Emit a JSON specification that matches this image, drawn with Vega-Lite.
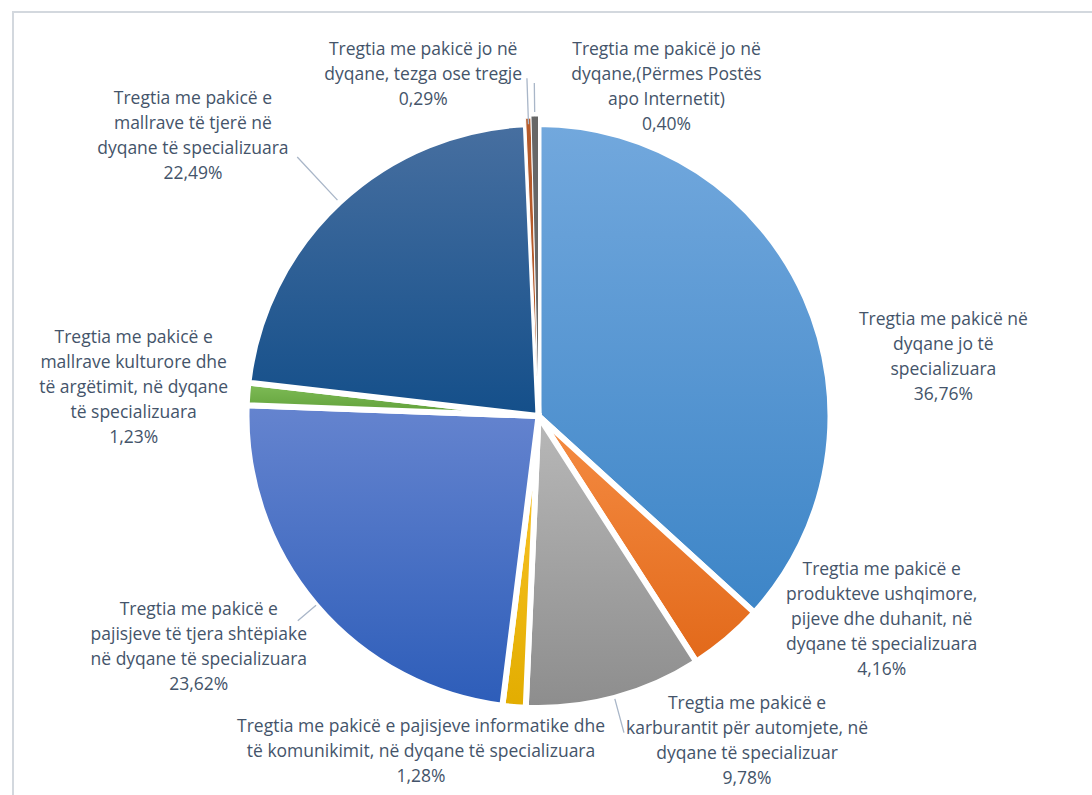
{
  "$schema": "https://vega.github.io/schema/vega-lite/v6.json",
  "width": 1082,
  "height": 786,
  "autosize": {"type": "none"},
  "padding": {"left": 13, "top": 12, "right": -3, "bottom": -3},
  "background": "white",
  "view": {"stroke": "#d3d8de", "strokeWidth": 2},
  "config": {
    "view": {"stroke": "#d3d8de", "strokeWidth": 2},
    "style": {"cell": {"stroke": "#d3d8de", "strokeWidth": 2}},
    "arc": {"stroke": "white", "strokeWidth": 6},
    "text": {"font": "Open Sans", "fontSize": 17.5, "lineHeight": 25, "color": "#44546A", "lineBreak": "\n", "align": "center", "baseline": "middle"}
  },
  "data": {
    "values": [
      {"ord": 1, "key": "k1", "value": 36.76, "label": "Tregtia me pakicë në\ndyqane jo të\nspecializuara\n36,76%"},
      {"ord": 2, "key": "k2", "value": 4.16, "label": "Tregtia me pakicë e\nprodukteve ushqimore,\npijeve dhe duhanit, në\ndyqane të specializuara\n4,16%"},
      {"ord": 3, "key": "k3", "value": 9.78, "label": "Tregtia me pakicë e\nkarburantit për automjete, në\ndyqane të specializuar\n9,78%"},
      {"ord": 4, "key": "k4", "value": 1.28, "label": "Tregtia me pakicë e pajisjeve informatike dhe\ntë komunikimit, në dyqane të specializuara\n1,28%"},
      {"ord": 5, "key": "k5", "value": 23.62, "label": "Tregtia me pakicë e\npajisjeve të tjera shtëpiake\nnë dyqane të specializuara\n23,62%"},
      {"ord": 6, "key": "k6", "value": 1.23, "label": "Tregtia me pakicë e\nmallrave kulturore dhe\ntë argëtimit, në dyqane\ntë specializuara\n1,23%"},
      {"ord": 7, "key": "k7", "value": 22.49, "label": "Tregtia me pakicë e\nmallrave të tjerë në\ndyqane të specializuara\n22,49%"},
      {"ord": 8, "key": "k8", "value": 0.29, "label": "Tregtia me pakicë jo në\ndyqane, tezga ose tregje\n0,29%"},
      {"ord": 9, "key": "k9", "value": 0.40, "label": "Tregtia me pakicë jo në\ndyqane,(Përmes Postës\napo Internetit)\n0,40%"}
    ]
  },
  "encoding": {
    "theta": {"field": "value", "type": "quantitative", "stack": true},
    "order": {"field": "ord", "type": "quantitative"},
    "detail": {"field": "key", "type": "nominal"}
  },
  "layer": [
    {
      "mark": {"type": "arc", "radius": 292, "xOffset": -15.5, "yOffset": 11, "color": {"gradient": "linear", "x1": 0, "y1": 0, "x2": 0, "y2": 1, "stops": [{"offset": 0, "color": "#72a8dd"}, {"offset": 1, "color": "#3d85c7"}]}},
      "encoding": {"opacity": {"condition": {"test": "datum.key === 'k1'", "value": 1}, "value": 0}}
    },
    {
      "mark": {"type": "arc", "radius": 292, "xOffset": -15.5, "yOffset": 11, "color": {"gradient": "linear", "x1": 0, "y1": 0, "x2": 0, "y2": 1, "stops": [{"offset": 0, "color": "#f58c43"}, {"offset": 1, "color": "#e2691a"}]}},
      "encoding": {"opacity": {"condition": {"test": "datum.key === 'k2'", "value": 1}, "value": 0}}
    },
    {
      "mark": {"type": "arc", "radius": 292, "xOffset": -15.5, "yOffset": 11, "color": {"gradient": "linear", "x1": 0, "y1": 0, "x2": 0, "y2": 1, "stops": [{"offset": 0, "color": "#b8b8b8"}, {"offset": 1, "color": "#8d8d8d"}]}},
      "encoding": {"opacity": {"condition": {"test": "datum.key === 'k3'", "value": 1}, "value": 0}}
    },
    {
      "mark": {"type": "arc", "radius": 292, "xOffset": -15.5, "yOffset": 11, "color": {"gradient": "linear", "x1": 0, "y1": 0, "x2": 0, "y2": 1, "stops": [{"offset": 0, "color": "#ffc830"}, {"offset": 1, "color": "#e2ad00"}]}},
      "encoding": {"opacity": {"condition": {"test": "datum.key === 'k4'", "value": 1}, "value": 0}}
    },
    {
      "mark": {"type": "arc", "radius": 292, "xOffset": -15.5, "yOffset": 11, "color": {"gradient": "linear", "x1": 0, "y1": 0, "x2": 0, "y2": 1, "stops": [{"offset": 0, "color": "#6584cf"}, {"offset": 1, "color": "#2d5db9"}]}},
      "encoding": {"opacity": {"condition": {"test": "datum.key === 'k5'", "value": 1}, "value": 0}}
    },
    {
      "mark": {"type": "arc", "radius": 292, "xOffset": -15.5, "yOffset": 11, "color": {"gradient": "linear", "x1": 0, "y1": 0, "x2": 0, "y2": 1, "stops": [{"offset": 0, "color": "#80bd58"}, {"offset": 1, "color": "#5e9e37"}]}},
      "encoding": {"opacity": {"condition": {"test": "datum.key === 'k6'", "value": 1}, "value": 0}}
    },
    {
      "mark": {"type": "arc", "radius": 292, "xOffset": -15.5, "yOffset": 11, "color": {"gradient": "linear", "x1": 0, "y1": 0, "x2": 0, "y2": 1, "stops": [{"offset": 0, "color": "#476fa0"}, {"offset": 1, "color": "#144f8a"}]}},
      "encoding": {"opacity": {"condition": {"test": "datum.key === 'k7'", "value": 1}, "value": 0}}
    },
    {
      "mark": {"type": "arc", "radius": 298, "radius2": 40, "strokeWidth": 1, "xOffset": -15.5, "yOffset": 11, "color": "#b55a2a"},
      "encoding": {"opacity": {"condition": {"test": "datum.key === 'k8'", "value": 1}, "value": 0}}
    },
    {
      "mark": {"type": "arc", "radius": 300, "radius2": 40, "strokeWidth": 1, "xOffset": -15.5, "yOffset": 11, "color": "#676767"},
      "encoding": {"opacity": {"condition": {"test": "datum.key === 'k9'", "value": 1}, "value": 0}}
    },
    {
      "mark": {"type": "arc", "radius": 328, "radius2": 293, "padAngle": 3.14, "filled": false, "stroke": "#a9b6c8", "strokeWidth": 1.3, "xOffset": -15.5, "yOffset": 11},
      "encoding": {"strokeOpacity": {"condition": {"test": "datum.key === 'k3'", "value": 1}, "value": 0}}
    },
    {
      "mark": {"type": "arc", "radius": 338, "radius2": 292, "padAngle": 3.14, "filled": false, "stroke": "#a9b6c8", "strokeWidth": 1.3, "xOffset": -15.5, "yOffset": 11},
      "encoding": {"strokeOpacity": {"condition": {"test": "datum.key === 'k8'", "value": 1}, "value": 0}}
    },
    {
      "mark": {"type": "arc", "radius": 333, "radius2": 304, "padAngle": 3.14, "filled": false, "stroke": "#a9b6c8", "strokeWidth": 1.3, "xOffset": -15.5, "yOffset": 11},
      "encoding": {"strokeOpacity": {"condition": {"test": "datum.key === 'k9'", "value": 1}, "value": 0}}
    },
    {
      "mark": {"type": "arc", "radius": 316, "radius2": 292, "padAngle": 3.14, "filled": false, "stroke": "#a9b6c8", "strokeWidth": 1.3, "xOffset": -15.5, "yOffset": 11},
      "encoding": {"strokeOpacity": {"condition": {"test": "datum.key === 'k5'", "value": 1}, "value": 0}}
    },
    {
      "mark": {"type": "arc", "radius": 354, "radius2": 295, "padAngle": 3.14, "filled": false, "stroke": "#a9b6c8", "strokeWidth": 1.3, "xOffset": -15.5, "yOffset": 11},
      "encoding": {"strokeOpacity": {"condition": {"test": "datum.key === 'k7'", "value": 1}, "value": 0}}
    },
    {
      "mark": {"type": "text", "radius": 400, "dx": 23.5, "dy": 77},
      "encoding": {"text": {"condition": {"test": "datum.key === 'k1'", "field": "label"}, "value": ""}}
    },
    {
      "mark": {"type": "text", "radius": 400, "dx": 69.5, "dy": -140.5},
      "encoding": {"text": {"condition": {"test": "datum.key === 'k2'", "field": "label"}, "value": ""}}
    },
    {
      "mark": {"type": "text", "radius": 340, "dx": 104.5, "dy": -29},
      "encoding": {"text": {"condition": {"test": "datum.key === 'k3'", "field": "label"}, "value": ""}}
    },
    {
      "mark": {"type": "text", "radius": 340, "dx": -104.5, "dy": -16.5},
      "encoding": {"text": {"condition": {"test": "datum.key === 'k4'", "field": "label"}, "value": ""}}
    },
    {
      "mark": {"type": "text", "radius": 400, "dx": -50.5, "dy": -54},
      "encoding": {"text": {"condition": {"test": "datum.key === 'k5'", "field": "label"}, "value": ""}}
    },
    {
      "mark": {"type": "text", "radius": 400, "dx": -21.5, "dy": -36.5},
      "encoding": {"text": {"condition": {"test": "datum.key === 'k6'", "field": "label"}, "value": ""}}
    },
    {
      "mark": {"type": "text", "radius": 400, "dx": -88.5, "dy": -13},
      "encoding": {"text": {"condition": {"test": "datum.key === 'k7'", "field": "label"}, "value": ""}}
    },
    {
      "mark": {"type": "text", "radius": 330, "dx": -119.5, "dy": -25.5},
      "encoding": {"text": {"condition": {"test": "datum.key === 'k8'", "field": "label"}, "value": ""}}
    },
    {
      "mark": {"type": "text", "radius": 320, "dx": 116.5, "dy": -35},
      "encoding": {"text": {"condition": {"test": "datum.key === 'k9'", "field": "label"}, "value": ""}}
    }
  ]
}
